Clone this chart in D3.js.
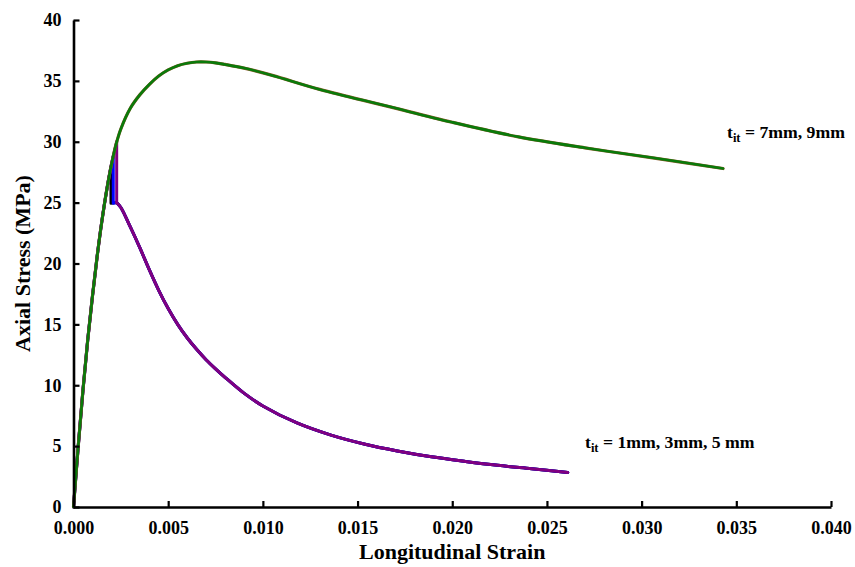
<!DOCTYPE html>
<html>
<head>
<meta charset="utf-8">
<script src="https://cdn.jsdelivr.net/npm/d3@7"></script>
<style>
  html, body { margin: 0; padding: 0; background: #fff; }
  svg { display: block; }
  text { font-family: "Liberation Serif", "Times New Roman", serif; font-weight: bold; fill: #000; }
</style>
</head>
<body>
<svg id="chart" width="855" height="567"></svg>
<script>
// ---- Data ----
// Common pre-peak (ascending) branch
const ascentStrain = [0, 0.00025, 0.0005, 0.00075, 0.001, 0.00125, 0.0015, 0.00175, 0.002, 0.00225];
const ascentStress = [0, 5.0, 9.6, 13.7, 17.3, 20.6, 23.5, 26.0, 28.1, 29.8];

// Post-peak branch for t_it = 7mm, 9mm
const thickStrain = [0.0025, 0.003, 0.0035, 0.004, 0.0045, 0.005, 0.0055, 0.006, 0.0065, 0.007, 0.0075, 0.008, 0.009, 0.0105, 0.013, 0.0165, 0.020, 0.0235, 0.027, 0.0305, 0.0343];
const thickStress = [31.05, 32.75, 33.85, 34.7, 35.4, 35.9, 36.25, 36.45, 36.55, 36.55, 36.48, 36.35, 36.05, 35.45, 34.3, 32.95, 31.6, 30.4, 29.5, 28.7, 27.8];

// Sudden drop for t_it = 1mm, 3mm, 5mm
const thinLabels = ["1mm", "3mm", "5mm"];
const dropStrain = [0.00198, 0.0021, 0.00228];
const dropTop = [27.95, 28.8, 30.0];
const dropBottom = [24.95, 24.95, 25.0];

// Softening branch for t_it = 1mm, 3mm, 5mm
const softStrain = [0.00228, 0.0025, 0.003, 0.0035, 0.004, 0.0045, 0.005, 0.0055, 0.006, 0.0065, 0.007, 0.0075, 0.008, 0.009, 0.010, 0.0118, 0.0136, 0.0154, 0.0171, 0.0189, 0.0207, 0.0224, 0.0242, 0.0261];
const softStress = [25.0, 24.6, 23.0, 21.3, 19.5, 17.8, 16.3, 15.0, 13.9, 12.95, 12.1, 11.35, 10.65, 9.35, 8.3, 6.9, 5.9, 5.15, 4.6, 4.12, 3.74, 3.42, 3.14, 2.84];

const thickLabels = ["7mm", "9mm"];

const xTicks = [0, 0.005, 0.010, 0.015, 0.020, 0.025, 0.030, 0.035, 0.040];
const yTicks = [0, 5, 10, 15, 20, 25, 30, 35, 40];

const xTitle = "Longitudinal Strain";
const yTitle = "Axial Stress (MPa)";

// ---- Layout ----
const svg = d3.select("#chart");
const plotLeft = 73.5, plotRight = 831, plotTop = 20, plotBottom = 507;

const x = d3.scaleLinear().domain([0, 0.040]).range([plotLeft, plotRight]);
const y = d3.scaleLinear().domain([0, 40]).range([plotBottom, plotTop]);

const zip = (a, b) => a.map((v, i) => [v, b[i]]);
const ascent = zip(ascentStrain, ascentStress);
const thickBranch = zip(thickStrain, thickStress);
const softBranch = zip(softStrain, softStress);

const smooth = d3.line().x(d => x(d[0])).y(d => y(d[1])).curve(d3.curveCatmullRom.alpha(0.5));
const straight = d3.line().x(d => x(d[0])).y(d => y(d[1]));

const g = svg.append("g");

function drawSeries(paths, color, width) {
  paths.forEach(p => {
    g.append("path")
      .attr("d", p)
      .attr("fill", "none")
      .attr("stroke", color)
      .attr("stroke-width", width)
      .attr("stroke-linejoin", "round")
      .attr("stroke-linecap", "round");
  });
}

// Thin interlayers: 1mm (black), 3mm (blue), 5mm (purple)
const thinColors = ["#000000", "#0000ff", "#800080"];
thinLabels.forEach((lab, i) => {
  const asc = ascent.filter(d => d[0] < dropStrain[i]).concat([[dropStrain[i], dropTop[i]]]);
  const drop = [[dropStrain[i], dropTop[i]], [dropStrain[i], dropBottom[i]], softBranch[0]];
  drawSeries([smooth(asc), straight(drop), smooth(softBranch)], thinColors[i], 3);
});

// Thick interlayers: 7mm (brown under), 9mm (green on top)
const thickAll = ascent.concat(thickBranch);
drawSeries([smooth(thickAll)], "#8a5a2b", 3.2);
drawSeries([smooth(thickAll)], "#0a7a0a", 2.6);

// ---- Axes ----
const xAxis = d3.axisBottom(x).tickValues(xTicks).tickFormat(d3.format(".3f")).tickSizeInner(-6).tickSizeOuter(0).tickPadding(14);
const yAxis = d3.axisLeft(y).tickValues(yTicks).tickFormat(d3.format("d")).tickSizeInner(-6).tickSizeOuter(0).tickPadding(12);

const gx = svg.append("g").attr("transform", `translate(0,${plotBottom})`).call(xAxis);
const gy = svg.append("g").attr("transform", `translate(${plotLeft},0)`).call(yAxis);

[gx, gy].forEach(a => {
  a.select(".domain").attr("stroke", "#000").attr("stroke-width", 2.6);
  a.selectAll(".tick line").attr("stroke", "#000").attr("stroke-width", 2.2);
  a.selectAll(".tick text")
    .style("font-family", '"Liberation Serif", "Times New Roman", serif')
    .style("font-weight", "bold")
    .style("font-size", "18px")
    .attr("fill", "#000");
});
gx.selectAll(".tick text").attr("dy", "0.71em");
gy.selectAll(".tick text").attr("dy", "0.32em");

// Axis titles
svg.append("text")
  .attr("x", (plotLeft + plotRight) / 2)
  .attr("y", 559)
  .attr("text-anchor", "middle")
  .style("font-size", "22px")
  .text(xTitle);

svg.append("text")
  .attr("transform", `translate(30,${(plotTop + plotBottom) / 2}) rotate(-90)`)
  .attr("text-anchor", "middle")
  .style("font-size", "22px")
  .text(yTitle);

// Annotations
function tLabel(px, py, rest) {
  const t = svg.append("text").attr("x", px).attr("y", py).style("font-size", "17.7px");
  t.append("tspan").text("t");
  t.append("tspan").attr("dy", 4).style("font-size", "12.5px").text("it");
  t.append("tspan").attr("dy", -4).text(" = " + rest);
}
tLabel(727, 138, thickLabels.join(", "));
tLabel(585, 448, "1mm, 3mm, 5 mm");
</script>
</body>
</html>
